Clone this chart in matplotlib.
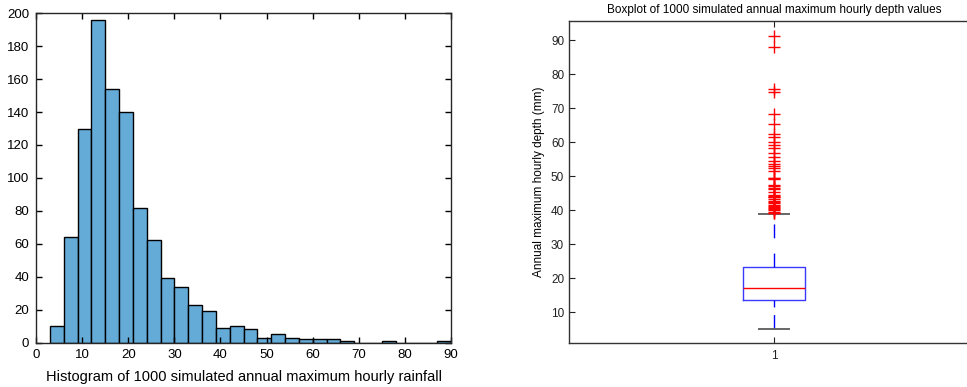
import matplotlib
matplotlib.use("Agg")
import matplotlib.pyplot as plt
import numpy as np

plt.rcParams['font.family'] = ['Liberation Sans', 'DejaVu Sans']

# ---- Histogram data ----
bin_edges = [3, 6, 9, 12, 15, 18, 21, 24, 27, 30, 33, 36, 39, 42, 45, 48, 51, 54,
             57, 60, 63, 66, 69, 72, 75, 78, 81, 84, 87, 90]
counts = [10, 64, 130, 196, 154, 140, 82, 62, 39, 34, 23, 19, 9, 10, 8, 3, 5, 3,
          2, 2, 2, 1, 0, 0, 1, 0, 0, 0, 1]
hist_xticks = [0, 10, 20, 30, 40, 50, 60, 70, 80, 90]
hist_yticks = [0, 20, 40, 60, 80, 100, 120, 140, 160, 180, 200]

# ---- Boxplot data ----
box_q1 = 13.6
box_med = 17.3
box_q3 = 23.4
box_whislo = 5.2
box_whishi = 38.8
fliers = [39.1, 39.3, 39.6, 40.1, 40.3, 40.6, 40.9, 41.2, 41.6,
          42.3, 42.5, 42.9, 43.4, 43.8, 44.05, 44.2, 44.6,
          45.3, 46.2, 46.5, 47.1, 47.5,
          49.2, 49.45, 49.6,
          51.7, 52.4, 53.1, 53.5,
          54.5, 55.6, 56.8,
          58.4, 59.1,
          60.25, 61.7, 62.4,
          65.4, 68.4, 74.7, 75.8, 87.9, 91.4]
box_yticks = [10, 20, 30, 40, 50, 60, 70, 80, 90]

W, H = 967, 387
fig = plt.figure(figsize=(W / 100, H / 100), dpi=100)

# ---- Left: histogram ----
l, r, t, b = 36, 451, 13.3, 342.5
ax1 = fig.add_axes([l / W, 1 - b / H, (r - l) / W, (b - t) / H])
lefts = bin_edges[:-1]
widths = np.diff(bin_edges)
ax1.bar(lefts, counts, width=widths, align='edge', color='#64abd8',
        edgecolor='black', linewidth=1.0)
ax1.set_xlim(0, 90)
ax1.set_ylim(0, 200)
ax1.set_xticks(hist_xticks)
ax1.set_yticks(hist_yticks)
ax1.tick_params(direction='in', length=4, width=1, top=True, right=True,
                labelsize=9.5, colors='black', pad=5)
for s in ax1.spines.values():
    s.set_linewidth(1.0)
    s.set_color('#262626')
ax1.set_xlabel('Histogram of 1000 simulated annual maximum hourly rainfall',
               fontsize=10.5, labelpad=6)

# ---- Right: boxplot ----
l2, r2, t2, b2 = 569, 979, 21.3, 343
ax2 = fig.add_axes([l2 / W, 1 - b2 / H, (r2 - l2) / W, (b2 - t2) / H])
stats = [dict(med=box_med, q1=box_q1, q3=box_q3, whislo=box_whislo,
              whishi=box_whishi, fliers=fliers, label='1')]
res = ax2.bxp(stats, positions=[1], widths=0.15, capwidths=0.073,
              boxprops=dict(color='#3a3aff', linewidth=1.0),
              medianprops=dict(color='red', linewidth=1.0),
              whiskerprops=dict(color='blue', linestyle=(0, (10, 11)), linewidth=1.0),
              capprops=dict(color='#666666', linewidth=1.4),
              flierprops=dict(marker='+', markeredgecolor='red', markersize=9,
                              markeredgewidth=1.0, linestyle='none'))
# draw lower whisker from bottom up (dash pattern starts at the cap)
lw = res['whiskers'][0]
lw.set_ydata(lw.get_ydata()[::-1])
lw.set_linestyle((0, (10.4, 5.5)))
ax2.set_xlim(0.5, 1.5)
ax2.set_ylim(1.0, 95.6)
ax2.set_yticks(box_yticks)
ax2.tick_params(axis='y', direction='in', length=4, labelsize=8.5,
                colors='#222222')
ax2.tick_params(axis='x', direction='in', length=4, top=True, labelsize=8.5,
                colors='#222222', pad=5)
for s in ax2.spines.values():
    s.set_linewidth(1.0)
    s.set_color('#333333')
ax2.set_title('Boxplot of 1000 simulated annual maximum hourly depth values',
              fontsize=8.5, pad=6)
ax2.set_ylabel('Annual maximum hourly depth (mm)', fontsize=8.5, labelpad=4)

fig.savefig('out.png', dpi=100)
